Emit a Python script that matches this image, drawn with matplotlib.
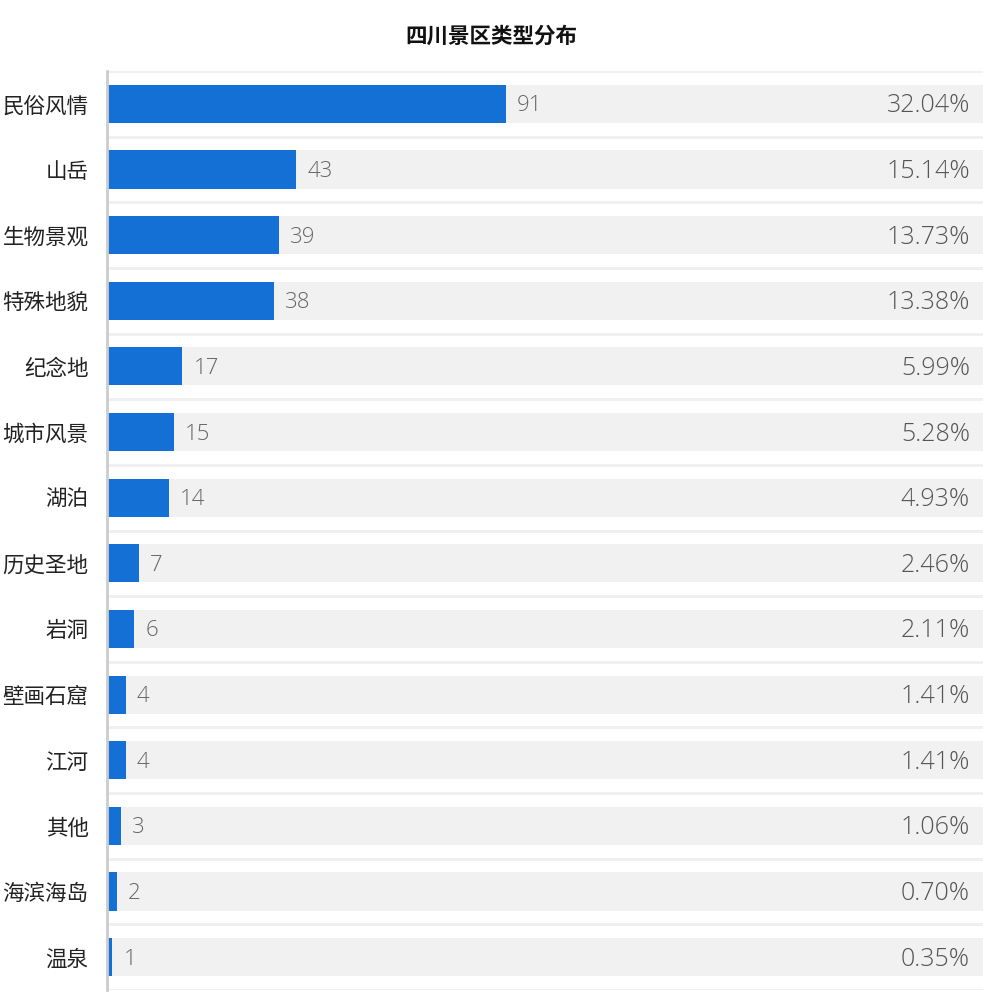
import matplotlib
matplotlib.use("Agg")
import matplotlib.pyplot as plt
import numpy as np

plt.rcParams['font.family'] = ['Noto Sans CJK SC', 'DejaVu Sans']

categories = ["民俗风情", "山岳", "生物景观", "特殊地貌", "纪念地", "城市风景", "湖泊",
              "历史圣地", "岩洞", "壁画石窟", "江河", "其他", "海滨海岛", "温泉"]
values = [91, 43, 39, 38, 17, 15, 14, 7, 6, 4, 4, 3, 2, 1]
percents = ["32.04%", "15.14%", "13.73%", "13.38%", "5.99%", "5.28%", "4.93%",
            "2.46%", "2.11%", "1.41%", "1.41%", "1.06%", "0.70%", "0.35%"]
axis_max = 200

W, H = 983, 1007
fig = plt.figure(figsize=(W / 100, H / 100), dpi=100)
ax = fig.add_axes([108 / W, 1 - 990 / H, 1 - 108 / W, (990 - 71) / H])

n = len(categories)
y = np.arange(n)
bar_h = 0.58
ax.barh(y, [axis_max] * n, height=bar_h, color="#f1f1f1", zorder=1)
ax.barh(y, values, height=bar_h, color="#1570d6", zorder=2)

num_font = ['Open Sans', 'Noto Sans CJK SC', 'DejaVu Sans']
for i in range(n):
    ax.text(values[i] + 2.5, y[i] + 0.03, str(values[i]), va="center", ha="left",
            fontsize=16, color="#666666", fontweight="light", family=num_font, zorder=3)
    ax.text(axis_max - 3, y[i] + 0.03, percents[i], va="center", ha="right",
            fontsize=18, color="#555555", fontweight="light", family=num_font, zorder=3)

ax.set_xlim(0, axis_max)
ax.set_ylim(n - 0.5, -0.5)
for b in np.arange(-0.5, n, 1.0):
    ax.axhline(b, color="#efefef", linewidth=2, zorder=0)

ax.set_yticks(y)
ax.set_yticklabels(categories)
ax.tick_params(axis="y", length=0, pad=13, labelsize=15.5, labelcolor="#222222")
ax.set_xticks([])
for s in ["top", "right", "bottom"]:
    ax.spines[s].set_visible(False)
ax.spines["left"].set_color("#cccccc")
ax.spines["left"].set_linewidth(2)
ax.spines["left"].set_position(("outward", 1))

fig.text(491 / W, 1 - 36 / H, "四川景区类型分布", ha="center", va="center",
         fontsize=15.5, fontweight="bold", color="#111111")

fig.savefig("out.png", dpi=100)
